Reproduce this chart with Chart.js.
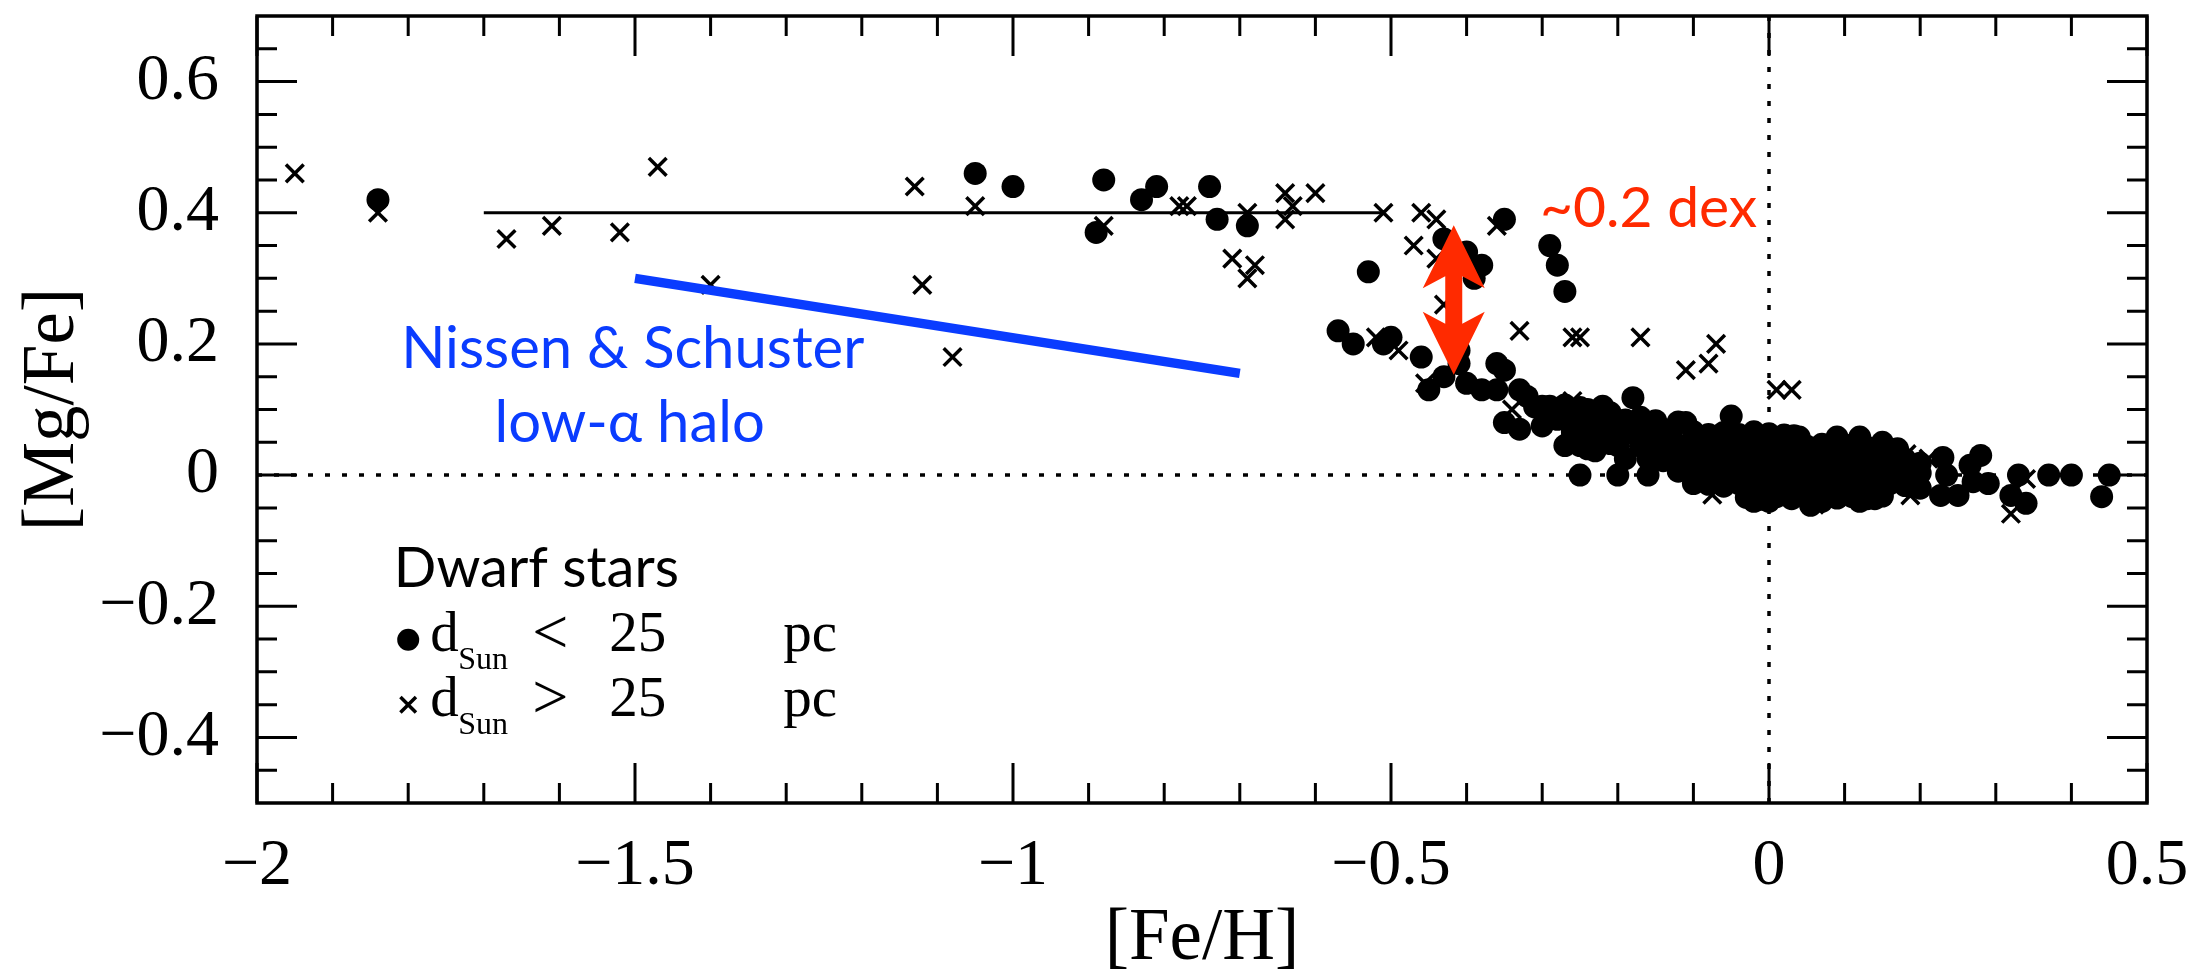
<!DOCTYPE html>
<html><head><meta charset="utf-8">
<style>html,body{margin:0;padding:0;background:#fff}#wrap{width:2212px;height:978px}</style>
<script src="https://cdn.jsdelivr.net/npm/chart.js@4.4.1/dist/chart.umd.min.js"></script>
</head><body><div id="wrap"><canvas id="c" width="2212" height="978"></canvas></div>
<script>
// ---- data ([Fe/H], [Mg/Fe]) ----
const nearbyStars = [ // d_Sun < 25 pc (filled circles)
[-1.84,0.42],[-1.05,0.46],[-1.00,0.44],[-0.88,0.45],[-0.89,0.37],[-0.83,0.42],[-0.81,0.44],[-0.74,0.44],[-0.73,0.39],[-0.69,0.38],
[-0.53,0.31],[-0.43,0.36],[-0.40,0.34],[-0.38,0.32],[-0.39,0.30],[-0.35,0.39],[-0.29,0.35],[-0.28,0.32],[-0.27,0.28],
[-0.57,0.22],[-0.55,0.20],[-0.51,0.20],[-0.50,0.21],[-0.46,0.18],[-0.43,0.15],[-0.45,0.13],[-0.41,0.19],[-0.41,0.17],[-0.40,0.14],[-0.38,0.13],
[-0.36,0.17],[-0.35,0.16],[-0.36,0.13],[-0.35,0.08],[-0.33,0.07],[-0.33,0.13],[-0.32,0.12],[-0.30,0.105],[-0.29,0.105],[-0.30,0.075],
[-0.28,0.085],[-0.26,0.095],[-0.24,0.10],[-0.25,0.045],[-0.24,0.04],[-0.26,0.065],[-0.21,0.095],[-0.20,0.075],[-0.18,0.118],[-0.20,0.045],
[-0.19,0.025],[-0.23,0.037],[-0.17,0.065],[-0.15,0.06],[-0.14,0.07],[-0.11,0.08],[-0.11,0.045],[-0.05,0.09],
[-0.25,0.0],[-0.20,0.0],[-0.16,0.0],[-0.10,-0.013],
[-0.01,0.055],[0.006,0.055],[0.033,0.06],[-0.02,-0.04],[0.0,-0.04],[0.055,-0.046],[0.09,0.058],[0.12,0.058],[0.15,0.05],[0.07,-0.04],[0.12,-0.04],[0.14,-0.036],
[0.23,0.027],[0.28,0.03],[0.29,-0.013],[0.33,0.0],[0.37,0.0],[0.40,0.0],[0.45,0.0],[0.44,-0.033],[0.32,-0.031],[0.34,-0.043],
[0.235,0.0],[0.266,0.015],[0.27,-0.01],[0.25,-0.031],[0.227,-0.031],[0.187,0.005],[0.20,-0.02],
[-0.15,0.043],[-0.13,0.047],[-0.11,0.044],[-0.09,0.048],[-0.07,0.043],[-0.05,0.046],[-0.03,0.044],[-0.01,0.047],[0.01,0.043],[0.03,0.046],[0.05,0.044],[0.07,0.047],[0.09,0.043],[0.11,0.046],[0.13,0.042],[0.15,0.044],[0.17,0.04],
[-0.16,0.025],[-0.14,0.022],[-0.12,0.026],[-0.10,0.023],[-0.08,0.027],[-0.06,0.022],[-0.04,0.025],[-0.02,0.028],[0.0,0.023],[0.02,0.026],[0.04,0.022],[0.06,0.027],[0.08,0.024],[0.10,0.026],[0.12,0.022],[0.14,0.025],[0.16,0.021],[0.18,0.024],[0.20,0.018],
[-0.12,0.006],[-0.10,0.003],[-0.08,0.007],[-0.06,0.004],[-0.04,0.006],[-0.02,0.002],[0.0,0.005],[0.02,0.008],[0.04,0.003],[0.06,0.006],[0.08,0.004],[0.10,0.007],[0.12,0.003],[0.14,0.005],[0.16,0.002],[0.18,0.006],[0.20,0.003],
[-0.08,-0.014],[-0.06,-0.017],[-0.04,-0.013],[-0.02,-0.016],[0.0,-0.018],[0.02,-0.014],[0.04,-0.017],[0.06,-0.013],[0.08,-0.016],[0.10,-0.018],[0.12,-0.014],[0.14,-0.017],[0.16,-0.013],[0.18,-0.016],
[-0.03,-0.034],[-0.01,-0.037],[0.01,-0.033],[0.03,-0.036],[0.05,-0.034],[0.07,-0.037],[0.09,-0.035],[0.11,-0.033],[0.13,-0.036],[0.15,-0.032],
[-0.26,0.066],[-0.24,0.063],[-0.22,0.067],[-0.18,0.064],[-0.16,0.066],[-0.13,0.063],[-0.10,0.066],[-0.08,0.062],[-0.06,0.065],[-0.04,0.062],[-0.02,0.066],[0.0,0.063],[0.02,0.061],[0.04,0.058],
[-0.27,0.086],[-0.25,0.083],[-0.23,0.087],[-0.19,0.084],[-0.17,0.088],[-0.15,0.083],[-0.12,0.081],
[-0.27,0.045],[-0.21,0.048],[-0.17,0.044],
[-0.31,0.104],[-0.27,0.107],[-0.25,0.103],[-0.22,0.105]
];
const distantStars = [ // d_Sun > 25 pc (crosses)
[-1.95,0.46],[-1.84,0.40],[-1.67,0.36],[-1.61,0.38],[-1.52,0.37],[-1.47,0.47],[-1.40,0.29],[-1.13,0.44],[-1.05,0.41],[-1.12,0.29],
[-1.08,0.18],[-0.88,0.38],[-0.78,0.41],[-0.77,0.41],[-0.69,0.40],[-0.71,0.33],[-0.68,0.32],[-0.69,0.30],[-0.64,0.43],[-0.60,0.43],
[-0.63,0.41],[-0.64,0.39],[-0.51,0.40],[-0.46,0.40],[-0.44,0.39],[-0.47,0.35],[-0.44,0.33],[-0.43,0.26],[-0.36,0.38],[-0.33,0.22],
[-0.26,0.21],[-0.25,0.21],[-0.17,0.21],[-0.11,0.16],[-0.08,0.17],[-0.07,0.20],[0.01,0.13],[0.03,0.13],[-0.52,0.21],[-0.49,0.19],
[-0.455,0.14],[-0.34,0.10],[-0.26,0.113],[-0.09,0.06],[-0.075,-0.03],[0.055,0.045],[0.143,0.025],[0.182,0.032],[0.211,0.025],[0.187,-0.031],
[0.32,-0.059],[0.34,-0.006],[0.10,-0.02],[0.0,-0.03],[0.06,-0.045],[-0.02,0.05]
];
const plateauLine = [[-1.70,0.40],[-0.51,0.40]];
const nissenSchusterLine = [[-1.50,0.30],[-0.70,0.155]];
const zeroLineH = [[-2,0],[0.5,0]];
const zeroLineV = [[0,-0.5],[0,0.7]];
const arrowX = -0.417;
const arrowY = [0.153, 0.381];
const xMajorTicks = [-2,-1.5,-1,-0.5,0,0.5];
const xMinorTicks = [-1.9,-1.8,-1.7,-1.6,-1.4,-1.3,-1.2,-1.1,-0.9,-0.8,-0.7,-0.6,-0.4,-0.3,-0.2,-0.1,0.1,0.2,0.3,0.4];
const yMajorTicks = [-0.4,-0.2,0,0.2,0.4,0.6];
const yMinorTicks = [-0.45,-0.35,-0.3,-0.25,-0.15,-0.1,-0.05,0.05,0.1,0.15,0.25,0.3,0.35,0.45,0.5,0.55,0.65];

const toXY = a => a.map(p => ({x: p[0], y: p[1]}));
const fmt = v => (v < 0 ? '\u2212' : '') + String(Math.abs(v));
const SERIF = "'Liberation Serif', 'Times New Roman', serif";
const SANS = "Lato, 'Open Sans', 'DejaVu Sans', sans-serif";
const RED = '#ff2a00', BLUE = '#0a3cff';

const framePlugin = {
  id: 'frame',
  afterDatasetsDraw(chart) {
    const {ctx, chartArea: a, scales: {x, y}} = chart;
    // red double arrow
    const px = x.getPixelForValue(arrowX), yb = y.getPixelForValue(arrowY[0]), yt = y.getPixelForValue(arrowY[1]);
    const hw = 31, sw = 8.5, hl = 63, nl = 51;
    ctx.save();
    ctx.fillStyle = RED;
    ctx.beginPath();
    ctx.moveTo(px, yt);
    ctx.lineTo(px + hw, yt + hl); ctx.lineTo(px + sw, yt + nl);
    ctx.lineTo(px + sw, yb - nl); ctx.lineTo(px + hw, yb - hl);
    ctx.lineTo(px, yb);
    ctx.lineTo(px - hw, yb - hl); ctx.lineTo(px - sw, yb - nl);
    ctx.lineTo(px - sw, yt + nl); ctx.lineTo(px - hw, yt + hl);
    ctx.closePath(); ctx.fill();
    ctx.restore();
    // frame and inward ticks
    ctx.save();
    ctx.strokeStyle = '#000'; ctx.lineWidth = 3;
    ctx.beginPath();
    const xt = (v, L) => { const p = x.getPixelForValue(v); ctx.moveTo(p, a.bottom); ctx.lineTo(p, a.bottom - L); ctx.moveTo(p, a.top); ctx.lineTo(p, a.top + L); };
    const ytk = (v, L) => { const p = y.getPixelForValue(v); ctx.moveTo(a.left, p); ctx.lineTo(a.left + L, p); ctx.moveTo(a.right, p); ctx.lineTo(a.right - L, p); };
    xMajorTicks.forEach(v => xt(v, 40)); xMinorTicks.forEach(v => xt(v, 20));
    yMajorTicks.forEach(v => ytk(v, 40)); yMinorTicks.forEach(v => ytk(v, 20));
    ctx.stroke();
    ctx.lineWidth = 3.5;
    ctx.strokeRect(a.left, a.top, a.right - a.left, a.bottom - a.top);
    ctx.restore();
  },
  afterDraw(chart) {
    const {ctx, scales: {x, y}} = chart;
    const X = v => x.getPixelForValue(v), Y = v => y.getPixelForValue(v);
    ctx.save();
    ctx.textBaseline = 'alphabetic';
    // blue label
    ctx.fillStyle = BLUE; ctx.font = `58px ${SANS}`; ctx.textAlign = 'center';
    ctx.fillText('Nissen & Schuster', X(-1.503), Y(0.164));
    ctx.fillText('low-\u03b1 halo', X(-1.507), Y(0.050));
    // red label
    ctx.fillStyle = RED; ctx.font = `57px ${SANS}`; ctx.textAlign = 'left';
    ctx.fillText('~0.2 dex', X(-0.303), Y(0.379));
    // legend
    ctx.fillStyle = '#000'; ctx.font = `56px ${SANS}`;
    ctx.fillText('Dwarf stars', X(-1.819), Y(-0.170));
    const lx = X(-1.80);
    const rows = [{yb: -0.268, sym: '<', pt: 'circle'}, {yb: -0.367, sym: '>', pt: 'crossRot'}];
    rows.forEach(r => {
      const base = Y(r.yb);
      if (r.pt === 'circle') {
        ctx.beginPath(); ctx.arc(lx, base - 11, 11, 0, Math.PI * 2); ctx.fill();
      } else {
        ctx.lineWidth = 3.5; ctx.strokeStyle = '#000';
        Chart.helpers.drawPoint(ctx, {pointStyle: 'crossRot', radius: 11, borderWidth: 3.5}, lx, base - 11);
      }
      ctx.font = `57px ${SERIF}`;
      ctx.fillText('d', lx + 22, base);
      ctx.font = `32px ${SERIF}`;
      ctx.fillText('Sun', lx + 50, base + 18);
      ctx.font = `64px ${SERIF}`;
      ctx.fillText(r.sym, lx + 124, base + 2);
      ctx.font = `57px ${SERIF}`;
      ctx.fillText('25', lx + 201, base);
      ctx.fillText('pc', lx + 375, base);
    });
    ctx.restore();
  }
};

const lineDs = (arr, color, width, dash, order) => ({
  type: 'line', data: toXY(arr), borderColor: color, borderWidth: width, borderDash: dash,
  pointRadius: 0, showLine: true, fill: false, order: order, borderCapStyle: 'butt'
});

new Chart(document.getElementById('c'), {
  type: 'scatter',
  data: {
    datasets: [
      lineDs(zeroLineH, '#000', 3.5, [5, 12], 10),
      lineDs(zeroLineV, '#000', 3.5, [5, 12], 9),
      {label: 'd_Sun > 25 pc', data: toXY(distantStars), pointStyle: 'crossRot', pointRadius: 12.5,
       borderColor: '#000', backgroundColor: '#000', pointBorderWidth: 3.5, order: 8},
      {label: 'd_Sun < 25 pc', data: toXY(nearbyStars), pointStyle: 'circle', pointRadius: 11.5,
       backgroundColor: '#000', borderColor: '#000', pointBorderWidth: 0, order: 6},
      lineDs(plateauLine, '#000', 3, [], 5),
      lineDs(nissenSchusterLine, BLUE, 9.5, [], 4)
    ]
  },
  options: {
    responsive: false, animation: false, devicePixelRatio: 1,
    layout: {padding: {left: 0, right: 65, top: 11, bottom: 0}},
    plugins: {legend: {display: false}, tooltip: {enabled: false}},
    scales: {
      x: {
        type: 'linear', min: -2, max: 0.5,
        afterBuildTicks: s => { s.ticks = xMajorTicks.map(v => ({value: v})); },
        afterFit: s => { s.height = 175; s.paddingLeft = 0; s.paddingRight = 0; s.paddingTop = 0; s.paddingBottom = 0; },
        ticks: {callback: v => fmt(v), font: {family: SERIF, size: 66}, color: '#000', padding: 24, maxRotation: 0, autoSkip: false},
        grid: {display: false, drawTicks: false},
        border: {display: false},
        title: {display: true, text: '[Fe/H]', color: '#000', font: {family: SERIF, size: 73, lineHeight: 1}, padding: {top: 0, bottom: 2}}
      },
      y: {
        type: 'linear', min: -0.5, max: 0.7,
        afterBuildTicks: s => { s.ticks = yMajorTicks.map(v => ({value: v})); },
        afterFit: s => { s.width = 257; s.paddingLeft = 0; s.paddingRight = 0; s.paddingTop = 0; s.paddingBottom = 0; },
        ticks: {callback: v => fmt(v), font: {family: SERIF, size: 66}, color: '#000', padding: 38, autoSkip: false},
        grid: {display: false, drawTicks: false},
        border: {display: false},
        title: {display: true, text: '[Mg/Fe]', color: '#000', font: {family: SERIF, size: 73, lineHeight: 1}, padding: {top: 17, bottom: 0}}
      }
    }
  },
  plugins: [framePlugin]
});
</script>
</body></html>
